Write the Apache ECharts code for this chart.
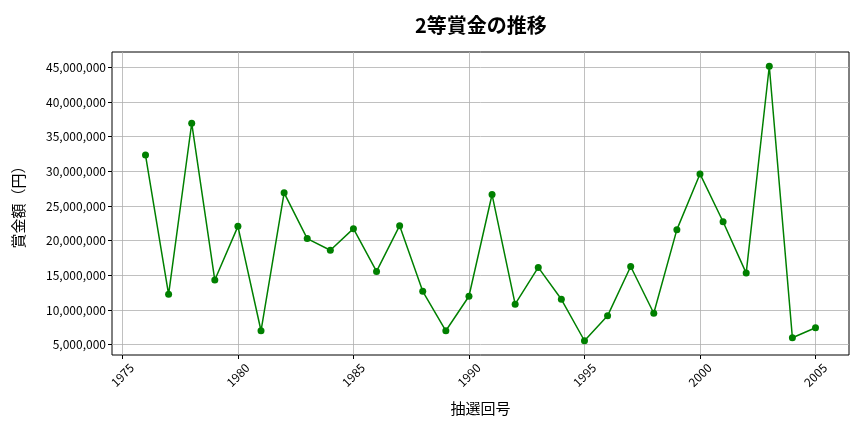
<!DOCTYPE html>
<html><head><meta charset="utf-8">
<script src="https://cdn.jsdelivr.net/npm/echarts@6/dist/echarts.min.js"></script>
<style>html,body{margin:0;padding:0;background:#fff}#c{width:864px;height:432px}</style>
</head><body><div id="c"></div>
<script>
const years = [1976,1977,1978,1979,1980,1981,1982,1983,1984,1985,1986,1987,1988,1989,1990,1991,1992,1993,1994,1995,1996,1997,1998,1999,2000,2001,2002,2003,2004,2005];
const prizes = [32340000,12270000,36930000,14320000,22060000,7010000,26890000,20300000,18620000,21730000,15570000,22160000,12700000,7010000,11980000,26650000,10840000,16140000,11550000,5570000,9160000,16280000,9540000,21590000,29620000,22730000,15320000,45140000,6000000,7440000];
const xTicks = [1975,1980,1985,1990,1995,2000,2005];
const yTicks = [5000000,10000000,15000000,20000000,25000000,30000000,35000000,40000000,45000000];
const FONT = '"Noto Sans CJK JP", "Noto Sans", sans-serif';
const chart = echarts.init(document.getElementById('c'));
chart.setOption({
  animation: false,
  title: {text: '2等賞金の推移', left: 410, top: 10,
    textStyle: {fontFamily: FONT, fontSize: 20, fontWeight: 'bold', color: '#000'}},
  grid: {left: 112, right: 15, top: 52, bottom: 77, show: true, borderColor: '#000', borderWidth: 1},
  xAxis: {type: 'value', min: 1974.55, max: 2006.45,
    name: '抽選回号', nameLocation: 'middle', nameGap: 46,
    nameTextStyle: {fontFamily: FONT, fontSize: 15, color: '#000'},
    axisLine: {show: false},
    axisTick: {show: true, customValues: xTicks, length: 4, lineStyle: {color: '#000'}},
    axisLabel: {customValues: xTicks, rotate: 45, align: 'center', verticalAlign: 'middle',
      fontFamily: FONT, fontSize: 12, color: '#000', margin: 20,
      formatter: v => String(v)},
    splitLine: {show: true, lineStyle: {color: '#b0b0b0', width: 0.8}}},
  yAxis: {type: 'value', min: 3515000, max: 47200000,
    name: '賞金額（円）', nameLocation: 'middle', nameGap: 86,
    nameTextStyle: {fontFamily: FONT, fontSize: 15, color: '#000'},
    axisLine: {show: false},
    axisTick: {show: true, customValues: yTicks, length: 4, lineStyle: {color: '#000'}},
    axisLabel: {customValues: yTicks, fontFamily: FONT, fontSize: 12, color: '#000', margin: 6,
      formatter: v => v.toLocaleString('en-US')},
    splitLine: {show: true, lineStyle: {color: '#b0b0b0', width: 0.8}}},
  series: [{type: 'line', data: years.map((y, i) => [y, prizes[i]]),
    symbol: 'circle', symbolSize: 7, showSymbol: true,
    lineStyle: {color: '#008000', width: 1.5}, itemStyle: {color: '#008000'}}]
});
</script></body></html>
